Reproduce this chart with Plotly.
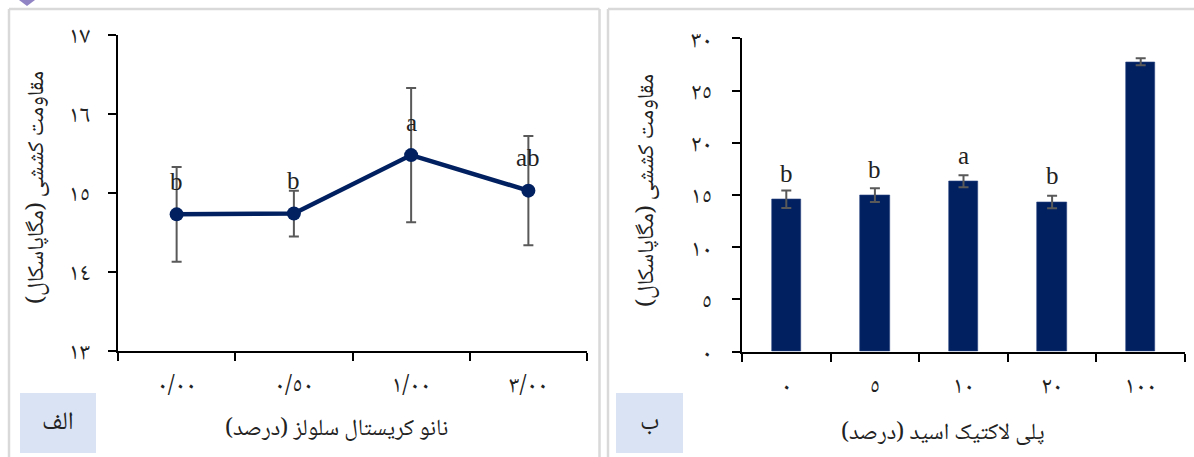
import plotly.graph_objects as go

# Panel (الف): tensile strength vs. nanocrystalline cellulose content
left_categories = ["٠/٠٠", "٠/٥٠", "١/٠٠", "٣/٠٠"]
left_values = [14.73, 14.74, 15.48, 15.03]
left_errors = [0.60, 0.29, 0.85, 0.69]
left_letters = ["b", "b", "a", "ab"]
left_yticks = [13, 14, 15, 16, 17]
left_yticktext = ["١٣", "١٤", "١٥", "١٦", "١٧"]

# Panel (ب): tensile strength vs. polylactic acid content
right_categories = ["٠", "٥", "١٠", "٢٠", "١٠٠"]
right_values = [14.60, 14.98, 16.32, 14.34, 27.75]
right_errors = [0.84, 0.66, 0.57, 0.60, 0.33]
right_letters = ["b", "b", "a", "b", ""]
right_yticks = [0, 5, 10, 15, 20, 25, 30]
right_yticktext = ["٠", "٥", "١٠", "١٥", "٢٠", "٢٥", "٣٠"]

y_title = "مقاومت کششی (مگاپاسکال)"
left_x_title = "نانو کریستال سلولز (درصد)"
right_x_title = "پلی لاکتیک اسید (درصد)"

W, H = 1194, 457
NAVY = "#002060"
ERR = "#595959"
SERIF = "Liberation Serif, DejaVu Serif, serif"
FA = "Noto Naskh Arabic, Noto Sans Arabic, Liberation Serif, DejaVu Sans, serif"


def px(x):
    return x / W


def py(y):
    return 1 - y / H


fig = go.Figure()

fig.add_trace(go.Scatter(
    x=left_categories, y=left_values,
    mode="lines+markers",
    line=dict(color=NAVY, width=4.5),
    marker=dict(color=NAVY, size=14),
    error_y=dict(type="data", array=left_errors, color=ERR, thickness=2, width=5),
    xaxis="x", yaxis="y", showlegend=False,
))

fig.add_trace(go.Bar(
    x=right_categories, y=right_values,
    width=0.33,
    marker=dict(color=NAVY, line=dict(color="#2a4482", width=0.6)),
    error_y=dict(type="data", array=right_errors, color=ERR, thickness=2, width=5),
    xaxis="x2", yaxis="y2", showlegend=False,
))

axis_common = dict(
    showline=True, linecolor="black", linewidth=2,
    ticks="outside", ticklen=8, tickwidth=2, tickcolor="black",
    showgrid=False, zeroline=False, mirror=False, automargin=False,
    tickfont=dict(family=FA, size=24, color="#222"),
)

fig.update_layout(
    template="none",
    width=W, height=H,
    margin=dict(l=0, r=0, t=0, b=0, pad=0),
    paper_bgcolor="white", plot_bgcolor="white",
    bargap=0,
    xaxis=dict(domain=[px(118), px(587)], type="category", tickson="boundaries",
               range=[-0.5, 3.5], ticklabelstandoff=10, anchor="y", **axis_common),
    yaxis=dict(domain=[py(351), py(35)], range=[13, 17], tickvals=left_yticks,
               ticktext=left_yticktext, ticklabelstandoff=13, anchor="x", **axis_common),
    xaxis2=dict(domain=[px(742), px(1185)], type="category", tickson="boundaries",
                range=[-0.5, 4.5], ticklabelstandoff=10, anchor="y2", **axis_common),
    yaxis2=dict(domain=[py(351.7), py(38.3)], range=[0, 30], tickvals=right_yticks,
                ticktext=right_yticktext, ticklabelstandoff=15, anchor="x2", **axis_common),
)

annotations = []
for c, v, t in zip(left_categories, left_values, left_letters):
    annotations.append(dict(x=c, y=v, xref="x", yref="y", text=t, showarrow=False,
                            yshift=33, font=dict(family=SERIF, size=25, color="#222")))
for c, v, t in zip(right_categories, right_values, right_letters):
    if t:
        annotations.append(dict(x=c, y=v, xref="x2", yref="y2", text=t, showarrow=False,
                                yshift=26, font=dict(family=SERIF, size=25, color="#222")))

title_font = dict(family=FA, size=23, color="#222")


def label(x, y, text, font, angle=0):
    return dict(x=px(x), y=py(y), xref="paper", yref="paper", text=text, textangle=angle,
                xanchor="center", yanchor="middle", showarrow=False, font=font)


annotations += [
    label(38, 188, y_title, title_font, -90),
    label(648, 191, y_title, title_font, -90),
    label(336, 430, left_x_title, title_font),
    label(943, 434, right_x_title, title_font),
    label(58, 423, "الف", dict(family=FA, size=25, color="#222")),
    label(649, 423, "ب", dict(family=FA, size=25, color="#222")),
]
fig.update_layout(annotations=annotations)

BORDER = dict(color="#d9d9d9", width=2.5)
shapes = [
    # panel frames
    dict(type="line", xref="paper", yref="paper", x0=px(9), x1=px(9), y0=py(9), y1=py(H), line=BORDER),
    dict(type="line", xref="paper", yref="paper", x0=px(9), x1=px(599.5), y0=py(9), y1=py(9), line=BORDER),
    dict(type="line", xref="paper", yref="paper", x0=px(599.5), x1=px(599.5), y0=py(9), y1=py(H), line=BORDER),
    dict(type="line", xref="paper", yref="paper", x0=px(608), x1=px(608), y0=py(9), y1=py(H), line=BORDER),
    dict(type="line", xref="paper", yref="paper", x0=px(608), x1=px(W), y0=py(9), y1=py(9), line=BORDER),
    # panel label boxes
    dict(type="rect", xref="paper", yref="paper", x0=px(20), x1=px(96), y0=py(453), y1=py(393),
         fillcolor="#dae3f3", line=dict(width=0), layer="below"),
    dict(type="rect", xref="paper", yref="paper", x0=px(616), x1=px(683), y0=py(453), y1=py(393),
         fillcolor="#dae3f3", line=dict(width=0), layer="below"),
    # small corner marker
    dict(type="path", xref="paper", yref="paper",
         path=f"M {px(19)} {py(0)} L {px(35)} {py(0)} L {px(27)} {py(6)} Z",
         fillcolor="#9184c4", line=dict(width=0)),
]
fig.update_layout(shapes=shapes)

fig.write_html("out.html")
